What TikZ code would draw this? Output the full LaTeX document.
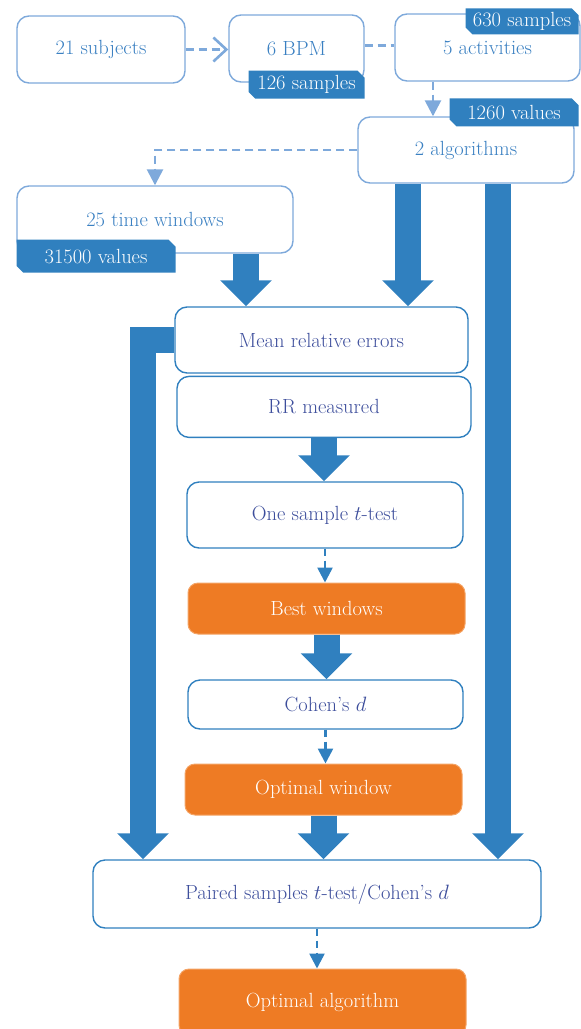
\documentclass[tikz,border=0pt]{standalone}
\usepackage{xcolor}
\usetikzlibrary{arrows.meta,positioning,calc,shapes.misc}
\definecolor{edgeLight}{HTML}{7EA9DB}
\definecolor{flowBlue}{HTML}{3080BF}
\definecolor{txtBlue}{HTML}{3A80C2}
\definecolor{txtNavy}{HTML}{3D4E9C}
\definecolor{bestOrange}{HTML}{EE7B24}
\definecolor{edgeOrange}{HTML}{F4A466}

\begin{document}
\begin{tikzpicture}[x=1pt,y=-1pt,node distance=2pt,
    every node/.style={font=\fontsize{20.5}{24}\selectfont},
    inbox/.style={draw=edgeLight,line width=1.4pt,rounded corners=12pt,
      fill=white,text=txtBlue,minimum height=67pt},
    stepbox/.style={draw=flowBlue,line width=1.4pt,rounded corners=12pt,
      fill=white,text=txtNavy,minimum height=66pt},
    resultbox/.style={draw=edgeOrange,line width=1pt,rounded corners=10pt,
      fill=bestOrange,text=white,minimum height=51pt},
    tag/.style={chamfered rectangle,
      chamfered rectangle corners={north east,south west},
      chamfered rectangle xsep=4pt,fill=flowBlue,text=white,
      inner sep=0pt,minimum height=28pt},
    lightdash/.style={draw=edgeLight,line width=2.6pt,
      dash pattern=on 8pt off 5pt},
    lighttip/.style={-{Triangle[width=16pt,length=16pt]}},
    smalldash/.style={draw=flowBlue,line width=2.6pt,
      dash pattern=on 7pt off 5pt,-{Triangle[width=15pt,length=15pt]}},
    bigarrow/.style={draw=flowBlue,line width=26pt,
      -{Triangle[width=50pt,length=26pt]}}]
  \useasboundingbox (0,0) rectangle (581,1029);

  \node[inbox,minimum width=168pt] (subj) at (101,49.5) {21 subjects};
  \node[inbox,minimum width=135pt] (bpm) at (296.5,48.5) {6 BPM};
  \node[inbox,minimum width=185pt] (act) at (487.5,47.5) {5 activities};
  \node[inbox,minimum width=216pt,minimum height=66pt] (alg)
    at (466,150) {2 algorithms};
  \node[inbox,minimum width=276pt] (tw) at (155,219.5) {25 time windows};

  \node[tag,anchor=east,minimum width=116pt] (bpmtag)
    at ([yshift=-2pt]bpm.south east) {126 samples};
  \node[tag,anchor=east,minimum width=113pt,minimum height=26pt] (acttag)
    at ([xshift=-2pt,yshift=-8pt]act.north east) {630 samples};
  \node[tag,anchor=east,minimum width=129pt] (algtag)
    at ([xshift=4pt,yshift=4pt]alg.north east) {1260 values};
  \node[tag,anchor=west,minimum width=159pt,minimum height=33pt] (twtag)
    at ([yshift=-2.5pt]tw.south west) {31500 values};

  \node[stepbox,minimum width=293pt] (mre) at (321.5,340)
    {Mean relative errors};
  \node[stepbox,minimum width=294pt,minimum height=61pt,
    below=2pt of mre,xshift=2.5pt] (rr) {RR measured};
  \node[stepbox,minimum width=276pt] (ost) at (325,515)
    {One sample $t$-test};
  \node[resultbox,minimum width=277pt] (best) at (326.5,608.5)
    {Best windows};
  \node[stepbox,minimum width=275pt,minimum height=49pt] (coh)
    at (325.5,704.5) {Cohen’s $d$};
  \node[resultbox,minimum width=277pt] (optw) at (323.5,789.5)
    {Optimal window};
  \node[stepbox,minimum width=448pt,minimum height=68pt] (pair)
    at (317,894) {Paired samples $t$-test/Cohen’s $d$};
  \node[resultbox,minimum width=287pt,minimum height=66pt] (opta)
    at (322.5,1002) {Optimal algorithm};

  \draw[lightdash,-{Straight Barb[length=13pt,width=24pt]}]
    (subj.east) -- (subj.east -| bpm.west);
  \draw[lightdash] ([yshift=3pt]bpm.east) -- ([yshift=3pt]bpm.east -| act.west);
  \draw[lightdash,lighttip]
    ([xshift=-54.5pt]act.south) -- ([xshift=-54.5pt]act.south |- alg.north);
  \draw[lightdash,lighttip] (alg.west) -| (tw.north);

  \draw[bigarrow] ([xshift=91pt]tw.south) -- ([xshift=91pt]tw.south |- mre.north);
  \draw[bigarrow] ([xshift=-58pt]alg.south) -- ([xshift=-58pt]alg.south |- mre.north);
  \draw[bigarrow] ([xshift=32pt]alg.south) -- ([xshift=32pt]alg.south |- pair.north);
  \draw[bigarrow] (mre.west) -| ([xshift=-174pt]pair.north);
  \draw[bigarrow] (rr.south) -- (rr.south |- ost.north);
  \draw[smalldash] (ost.south) -- (ost.south |- best.north);
  \draw[bigarrow] (best.south) -- (best.south |- coh.north);
  \draw[smalldash] (coh.south) -- (coh.south |- optw.north);
  \draw[bigarrow] (optw.south) -- (optw.south |- pair.north);
  \draw[smalldash] (pair.south) -- (pair.south |- opta.north);
\end{tikzpicture}
\end{document}
